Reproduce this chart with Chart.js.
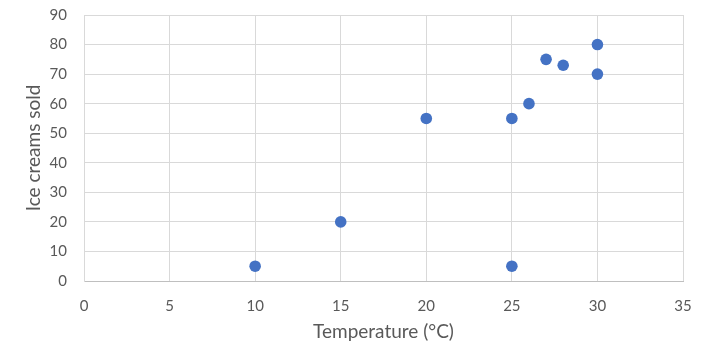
<!DOCTYPE html>
<html><head><meta charset="utf-8">
<script src="https://cdn.jsdelivr.net/npm/chart.js@4"></script>
<style>html,body{margin:0;padding:0;background:#fff}#wrap{width:706px;height:356px}</style>
</head><body><div id="wrap"><canvas id="c" width="706" height="356"></canvas></div>
<script>
const temperatures = [10, 15, 20, 25, 25, 26, 27, 28, 30, 30];
const iceCreamsSold = [5, 20, 55, 55, 5, 60, 75, 73, 80, 70];
const xTitle = 'Temperature (°C)';
const yTitle = 'Ice creams sold';

const points = temperatures.map((t, i) => ({x: t, y: iceCreamsSold[i]}));
const fam = 'Lato, "Open Sans", sans-serif';
const tickFont = {family: fam, size: 15};
const titleFont = {family: fam, size: 19};

new Chart(document.getElementById('c'), {
  type: 'scatter',
  data: {datasets: [{data: points, backgroundColor: '#4472C4', borderColor: '#4472C4', pointRadius: 5.8, pointHoverRadius: 5.8, borderWidth: 0}]},
  options: {
    responsive: false, animation: false, devicePixelRatio: 1,
    layout: {padding: {left: 0, right: 23, top: 15, bottom: 0}},
    plugins: {legend: {display: false}, tooltip: {enabled: false}},
    scales: {
      x: {
        type: 'linear', min: 0, max: 35,
        ticks: {stepSize: 5, color: '#595959', font: tickFont, padding: 16},
        grid: {color: '#d9d9d9', drawTicks: false},
        border: {color: '#bfbfbf', width: 1},
        title: {display: true, text: xTitle, color: '#595959', font: titleFont, padding: {top: 0, bottom: 12.6}},
        afterFit(s) { s.height = 75; s.paddingLeft = 0; s.paddingRight = 0; }
      },
      y: {
        type: 'linear', min: 0, max: 90,
        ticks: {stepSize: 10, color: '#595959', font: tickFont, padding: 17},
        grid: {color: '#d9d9d9', drawTicks: false},
        border: {color: '#d9d9d9', width: 1},
        title: {display: true, text: yTitle, color: '#595959', font: titleFont, padding: {top: 22, bottom: 0}},
        afterFit(s) { s.width = 84; s.paddingTop = 0; s.paddingBottom = 0; }
      }
    }
  }
});
</script></body></html>
